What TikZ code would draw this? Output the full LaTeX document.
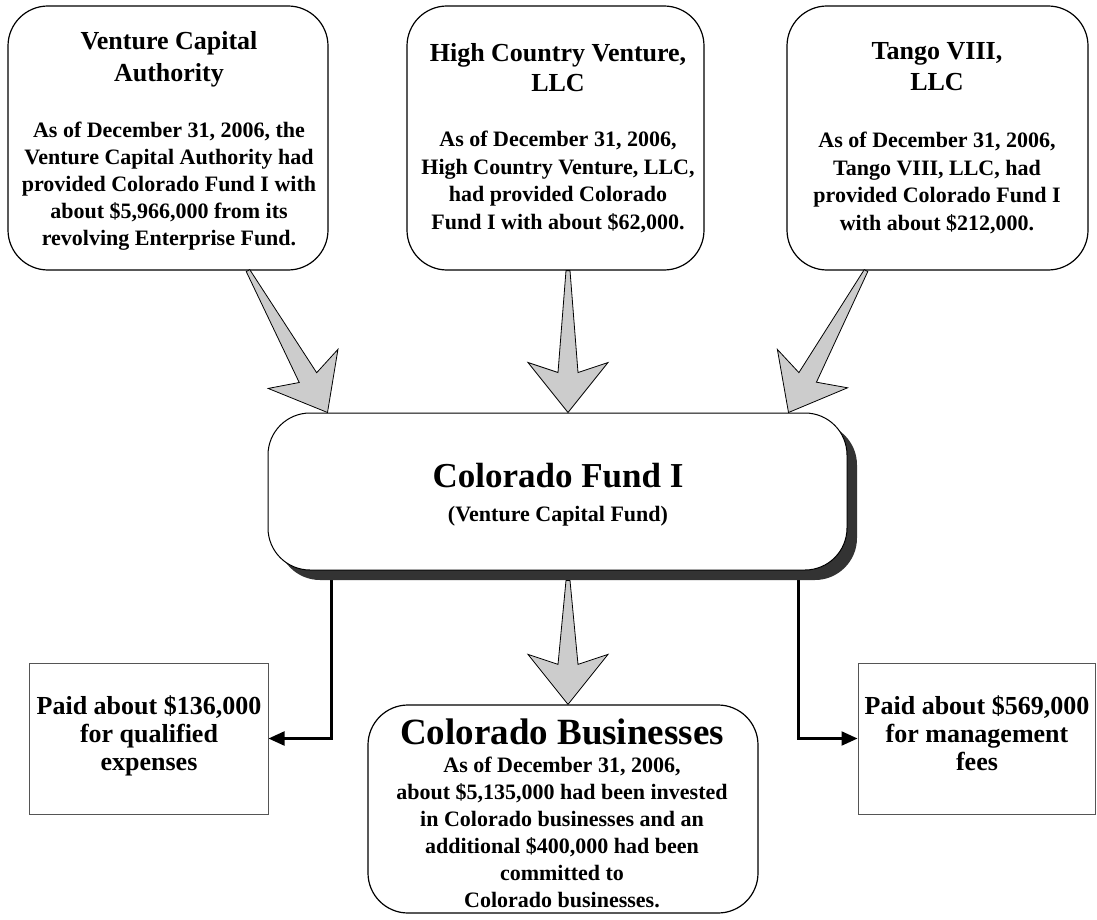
\documentclass[tikz,border=0pt]{standalone}
\usepackage{fontspec}
\setmainfont{Liberation Serif}
\usetikzlibrary{calc,arrows.meta,shadows}
\definecolor{arrowgray}{HTML}{CCCCCC}
\definecolor{shadowgray}{HTML}{333333}
\definecolor{rectgray}{HTML}{555555}
\newcommand{\mlines}[1]{\begin{tabular}[t]{@{}c@{}}#1\end{tabular}}
\newcommand{\fs}[2]{\fontsize{#1}{#2}\selectfont\bfseries}
\newcommand{\grayarrow}[3]{%
  \coordinate (#1-s) at #2;
  \coordinate (#1-t) at #3;
  \coordinate (#1-i) at ($(#1-t)!40pt!(#1-s)$);
  \coordinate (#1-h) at ($(#1-t)!50pt!(#1-s)$);
  \draw[blockarrow] ($(#1-s)!2pt!90:(#1-t)$) -- ($(#1-i)!10pt!-90:(#1-s)$) -- ($(#1-h)!40pt!-90:(#1-s)$) -- (#1-t) -- ($(#1-h)!40pt!90:(#1-s)$) -- ($(#1-i)!10pt!90:(#1-s)$) -- ($(#1-s)!2pt!-90:(#1-t)$) -- cycle;
}
\pgfdeclarelayer{bg}
\pgfsetlayers{bg,main}
\tikzset{
  topbox/.style={draw, line width=1.2pt, rounded corners=40pt, fill=white, inner sep=0pt, minimum width=#1, minimum height=264pt},
  fundbox/.style={draw, line width=1pt, rounded corners=42pt, fill=white, inner sep=0pt, minimum width=579pt, minimum height=157pt,
    drop shadow={shadow xshift=10pt, shadow yshift=-10pt, fill=shadowgray, opacity=1}},
  bizbox/.style={draw, line width=1.2pt, rounded corners=40pt, fill=white, inner sep=0pt, minimum width=390pt, minimum height=208pt},
  paybox/.style={draw=rectgray, line width=1pt, fill=white, inner sep=0pt, minimum width=#1, minimum height=151pt},
  txt/.style={anchor=base, inner sep=0pt},
  blockarrow/.style={fill=arrowgray, draw=black, line width=0.8pt, line join=miter},
  payline/.style={draw=black, line width=2.2pt, -{Triangle[length=16pt,width=14pt]}},
}
\begin{document}
\begin{tikzpicture}[x=1pt,y=-1pt]
\useasboundingbox (0,0) rectangle (1097,920);

% top boxes
\node[topbox=320pt] (vca) at (168,138) {};
\node[topbox=297pt] (hcv) at (555.5,138) {};
\node[topbox=301pt] (tango) at (937.5,138) {};

\node[txt] (vcaT) at (169,50) {\fs{26}{32}\mlines{Venture Capital\\Authority}};
\node[txt] (vcaB) at (169,138) {\fs{22}{27}\mlines{As of December 31, 2006, the\\Venture Capital Authority had\\provided Colorado Fund I with\\about \$5,966,000 from its\\revolving Enterprise Fund.}};

\node[txt] (hcvT) at (558,62) {\fs{26}{30}\mlines{High Country Venture,\\LLC}};
\node[txt] (hcvB) at (558,147) {\fs{22}{27.5}\mlines{As of December 31, 2006,\\High Country Venture, LLC,\\had provided Colorado\\Fund I with about \$62,000.}};

\node[txt] (tangoT) at (937,60) {\fs{26}{31}\mlines{Tango VIII,\\LLC}};
\node[txt] (tangoB) at (937,148) {\fs{22}{27.5}\mlines{As of December 31, 2006,\\Tango VIII, LLC, had\\provided Colorado Fund I\\with about \$212,000.}};

% central fund
\node[fundbox] (fund) at (557.5,491.5) {};
\node[txt] (fundT) at (558,487) {\fs{35}{40}Colorado Fund I};
\node[txt] (fundS) at (558,521) {\fs{22}{26}(Venture Capital Fund)};

% bottom boxes
\node[bizbox] (biz) at (563,809) {};
\node[txt] (bizT) at (562,744) {\fs{37}{42}Colorado Businesses};
\node[txt] (bizB) at (562,772) {\fs{22}{27}\mlines{As of December 31, 2006,\\about \$5,135,000 had been invested\\in Colorado businesses and an\\additional \$400,000 had been\\committed to\\Colorado businesses.}};

\node[paybox=239pt] (qual) at (148.5,738.5) {};
\node[txt] (qualT) at (149,714) {\fs{26}{28}\mlines{Paid about \$136,000\\for qualified\\expenses}};
\node[paybox=237pt] (mgmt) at (976.5,738.5) {};
\node[txt] (mgmtT) at (977,714) {\fs{26}{28}\mlines{Paid about \$569,000\\for management\\fees}};

% connectors
\begin{pgfonlayer}{bg}
\draw[payline] ($(fund.south west)+(64,-5)$) |- (qual.east);
\draw[payline] ($(fund.south east)+(-49,-5)$) |- (mgmt.west);
\end{pgfonlayer}

% gray block arrows
\grayarrow{a1}{($(vca.south)+(80,0)$)}{($(fund.north west)+(60,0)$)}
\grayarrow{a2}{($(hcv.south)+(12.5,0)$)}{($(fund.north)+(10.5,0)$)}
\grayarrow{a3}{($(tango.south)+(-71.5,0)$)}{($(fund.north east)+(-59,0)$)}
\grayarrow{a4}{($(fund.south)+(10.5,10)$)}{($(biz.north)+(5,0)$)}
\end{tikzpicture}
\end{document}
